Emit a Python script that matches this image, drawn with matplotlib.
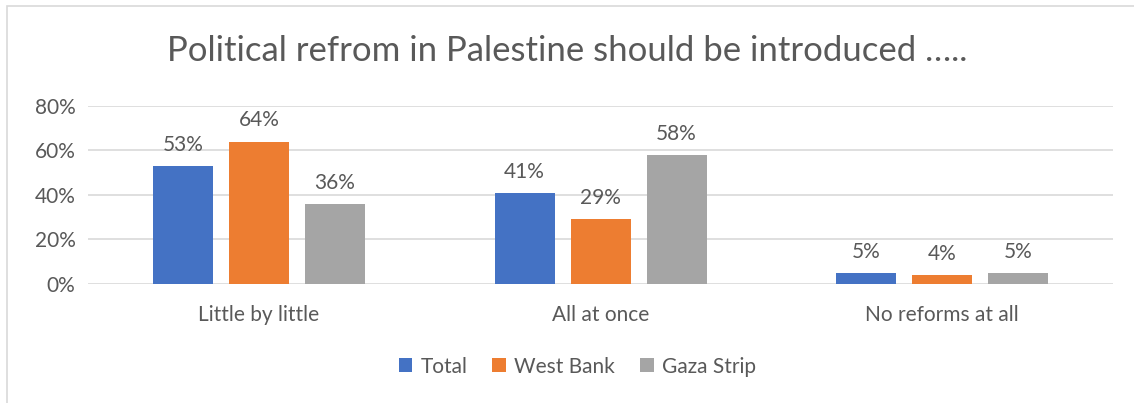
import numpy as np
import matplotlib.pyplot as plt
from matplotlib.patches import Rectangle

plt.rcParams['font.family'] = ['Lato', 'DejaVu Sans']

# survey answers, shares in percent
categories = ['Little by little', 'All at once', 'No reforms at all']
series_names = ['Total', 'West Bank', 'Gaza Strip']
total = [53, 41, 5]
west_bank = [64, 29, 4]
gaza_strip = [36, 58, 5]
colors = ['#4472C4', '#ED7D31', '#A5A5A5']
text_color = '#595959'

fig = plt.figure(figsize=(11.34, 4.03), dpi=100)
ax = fig.add_axes([0.0776, 0.2953, 0.904, 0.4417])

# outer chart frame
fig.patches.append(Rectangle((0.006, -0.01), 1.0, 0.996, transform=fig.transFigure,
                             fill=False, edgecolor='#d9d9d9', linewidth=1.2))

x = np.arange(len(categories))
width = 0.1756
step = 0.2224
for i, (name, vals) in enumerate(zip(series_names, [total, west_bank, gaza_strip])):
    vals = np.array(vals) / 100
    bars = ax.bar(x + (i - 1) * step, vals, width, color=colors[i], label=name, zorder=3)
    for b, v in zip(bars, vals):
        ax.annotate(f'{v*100:.0f}%', (b.get_x() + b.get_width() / 2, v),
                    xytext=(0, 8), textcoords='offset points', ha='center', va='bottom',
                    fontsize=15, color=text_color)

ax.set_xlim(-0.5, 2.5)
ax.set_ylim(0, 0.8)
ax.set_yticks(np.arange(0, 0.81, 0.2))
ax.set_yticklabels([f'{int(t*100)}%' for t in np.arange(0, 0.81, 0.2)])
ax.set_xticks(x)
ax.set_xticklabels(categories)
ax.tick_params(axis='both', length=0, labelsize=15, colors=text_color)
ax.tick_params(axis='x', pad=15)
ax.tick_params(axis='y', pad=9)
ax.grid(axis='y', color='#d9d9d9', linewidth=1.2, zorder=0)
for s in ax.spines.values():
    s.set_visible(False)

fig.text(0.5, 0.873, 'Political refrom in Palestine should be introduced …..',
         ha='center', va='center', fontsize=25, color=text_color)

fig.legend(loc='center', bbox_to_anchor=(0.509, 0.09), ncol=3, frameon=False,
           fontsize=15, labelcolor=text_color, handlelength=0.65, handleheight=0.65,
           handletextpad=0.4, columnspacing=1.2)

fig.savefig('out.png', dpi=100)
